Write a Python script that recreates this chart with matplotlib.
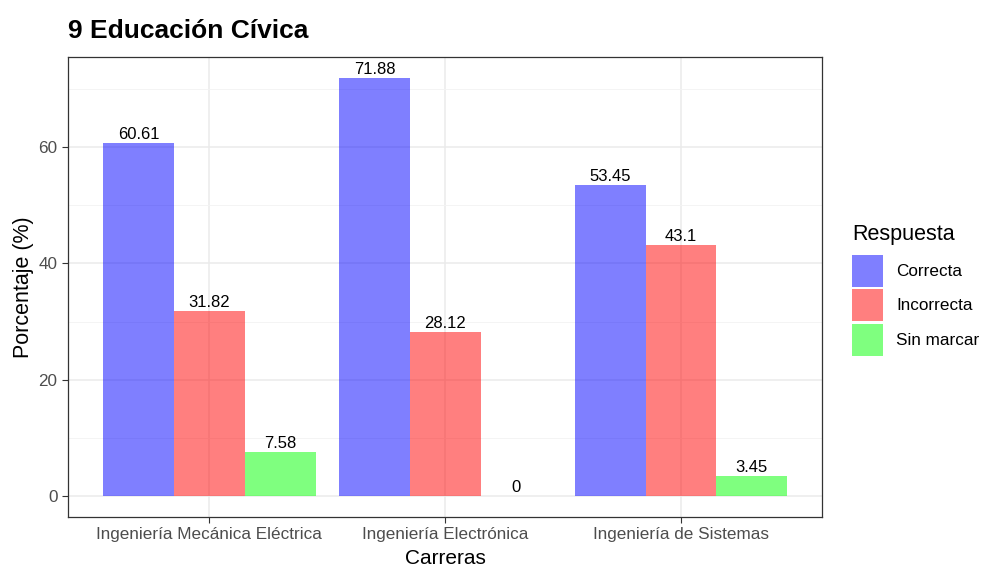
import matplotlib.pyplot as plt
import numpy as np
from matplotlib.patches import Patch

plt.rcParams['font.family'] = ['Liberation Sans', 'DejaVu Sans']

carreras = ["Ingeniería Mecánica Eléctrica", "Ingeniería Electrónica", "Ingeniería de Sistemas"]
respuestas = ["Correcta", "Incorrecta", "Sin marcar"]
correcta = [60.61, 71.88, 53.45]
incorrecta = [31.82, 28.12, 43.1]
sin_marcar = [7.58, 0, 3.45]
etiquetas = [["60.61", "71.88", "53.45"], ["31.82", "28.12", "43.1"], ["7.58", "0", "3.45"]]

colores = ["#0000FF", "#FF0000", "#00FF00"]
series = [correcta, incorrecta, sin_marcar]

fig = plt.figure(figsize=(9.81, 5.7), dpi=100)
ax = fig.add_axes([0.0693, 0.093, 0.769, 0.807])

x = np.arange(len(carreras)) + 1
w = 0.3
for i, (vals, col) in enumerate(zip(series, colores)):
    pos = x + (i - 1) * w
    ax.bar(pos, vals, width=w, color=col, alpha=0.5, linewidth=0, zorder=2)
    for p, v, t in zip(pos, vals, etiquetas[i]):
        ax.text(p, v + 0.2, t, ha="center", va="bottom", fontsize=12, color="black", zorder=3)

ymax = max(max(s) for s in series)
ax.set_ylim(-0.05 * ymax, 1.05 * ymax)
ax.set_xlim(0.4, 3.6)
ax.set_xticks(x)
ax.set_xticklabels(carreras)
ax.set_yticks([0, 20, 40, 60])
ax.set_yticks([10, 30, 50, 70], minor=True)
ax.grid(True, which="major", color="#EBEBEB", linewidth=1.1, zorder=0)
ax.grid(True, which="minor", axis="y", color="#F3F3F3", linewidth=0.6, zorder=0)
ax.set_axisbelow(True)
for s in ax.spines.values():
    s.set_color("#333333")
    s.set_linewidth(0.9)
ax.tick_params(axis="both", which="major", colors="#333333", labelcolor="#4D4D4D", labelsize=12.3, length=4)
ax.tick_params(axis="y", which="minor", length=0)

ax.set_xlabel("Carreras", fontsize=15, labelpad=5)
ax.set_ylabel("Porcentaje (%)", fontsize=15.5, labelpad=3)
fig.text(0.0693, 0.945, "9 Educación Cívica", fontsize=19, fontweight="bold", ha="left", va="center")

handles = [Patch(facecolor=c, alpha=0.5, edgecolor="none") for c in colores]
leg = fig.legend(handles, respuestas, loc="upper left", bbox_to_anchor=(852 / 981, 1 - 224 / 570),
                 title="Respuesta", frameon=False, fontsize=12.3, title_fontsize=15.5,
                 handlelength=1.8, handleheight=2.5, labelspacing=0.15, handletextpad=0.8,
                 borderpad=0, borderaxespad=0, alignment="left")
leg._legend_box.sep = 7

fig.savefig("out.png", dpi=100)
